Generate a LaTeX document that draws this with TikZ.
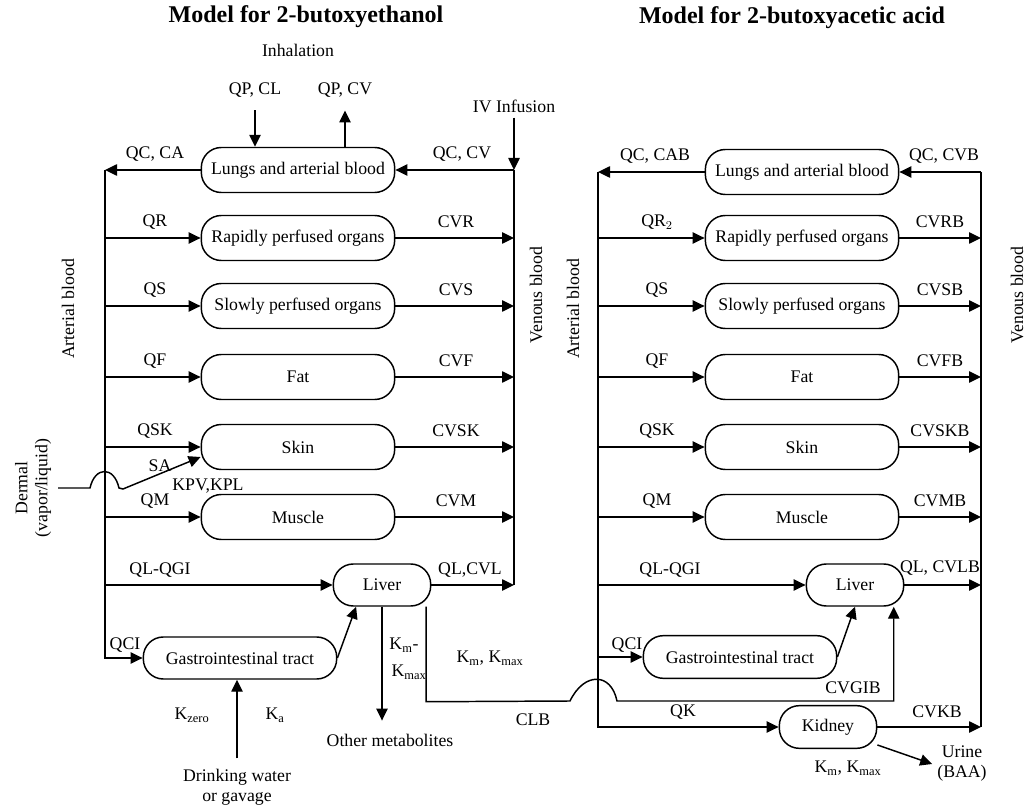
\documentclass[tikz,border=0pt]{standalone}
\usepackage{fontspec}
\setmainfont{Liberation Serif}
\usetikzlibrary{arrows.meta}

\begin{document}
\begin{tikzpicture}[x=0.75pt, y=-0.75pt, line width=1.1pt,
every node/.style={font=\fontsize{13.3}{15}\selectfont},
title/.style={font=\bfseries\fontsize{18}{21}\selectfont},
organ/.style={draw, line width=1.1pt, rounded corners=15pt, minimum width=145pt, minimum height=33.75pt, inner sep=0pt},
lobe/.style={organ, minimum width=73pt, minimum height=31.5pt},
vlabel/.style={rotate=90},
>={Triangle[length=9pt,width=8.5pt]}]
\useasboundingbox (0,0) rectangle (1026,806);
\def\artL{105}
\def\venL{514}
\def\artR{598}
\def\venR{981}

%titles
\node[title] (titleL) at (306,17) {Model for 2-butoxyethanol};
\node[title] (titleR) at (792,18) {Model for 2-butoxyacetic acid};

%model for 2-butoxyethanol
\node (inhal) at (298,50) {Inhalation};
\node[organ] (lungL) at (298,170) {Lungs and arterial blood};
\coordinate (artLtop) at (\artL,170);
\coordinate (venLtop) at (\venL,170);
\coordinate (venLbot) at (\venL,585);
\node (qpcl) at (255,90) {QP, CL};
\node (qpcv) at (345,90) {QP, CV};
\node (iv) at (\venL,106) {IV Infusion};
\draw[->, shorten <=6pt] (qpcl.south) -- (qpcl.south |- lungL.north);
\draw[->, shorten >=6pt] (qpcv.south |- lungL.north) -- (qpcv.south);
\draw[->] (iv.south) -- (venLtop);
\draw[->] (lungL.west) -- (artLtop);
\draw[->] (venLtop) -- (lungL.east);
\draw (venLtop) -- (venLbot);
\node (qcca) at (155,154) {QC, CA};
\node (qccv) at (462,154) {QC, CV};

\foreach \nm/\txt/\y/\qin/\qout in {rapL/Rapidly perfused organs/238/QR/CVR,
  slowL/Slowly perfused organs/306/QS/CVS, fatL/Fat/377/QF/CVF,
  skinL/Skin/447/QSK/CVSK, musL/Muscle/517/QM/CVM}{
  \node[organ] (\nm) at (298,\y) {\txt};
  \draw[->] (\artL,\y) -- (\nm.west);
  \draw[->] (\nm.east) -- (\venL,\y);
  \node (\nm in) at (155,\y-16) {\qin};
  \node (\nm out) at (456,\y-16) {\qout};
}

%liver and gut
\node[lobe] (liverL) at (382,585) {Liver};
\node[organ, minimum height=31.5pt] (giL) at (240,658) {Gastrointestinal tract};
\draw[->] (\artL,585) -- (liverL.west);
\draw[->] (liverL.east) -- (venLbot);
\draw[->] (artLtop) |- (giL.west);
\draw[->] (giL.east) -- (liverL.220);
\node (qlqgiL) at (160,570) {QL-QGI};
\node (qlcvl) at (470,570) {QL,CVL};
\node (qciL) at (125,645) {QCI};
\node[align=center] (drink) at (237,787) {Drinking water\\or gavage};
\draw[->, shorten <=4pt] (drink.north) -- (drink.north |- giL.south);
\node (kzero) at (192,715) {K\textsubscript{zero}};
\node (ka) at (275,715) {K\textsubscript{a}};
\node (othermet) at (390,740) {Other metabolites};
\draw[->, shorten >=6pt] (liverL.south) -- (liverL.south |- othermet.north);
\node (kmL) at (404,645) {K\textsubscript{m}-};
\node (kmaxL) at (409,672) {K\textsubscript{max}};
\node (kmkmax) at (490,658) {K\textsubscript{m}, K\textsubscript{max}};
\node (clb) at (533,720) {CLB};

%dermal route
\node[vlabel, align=center] (dermal) at (33,488) {Dermal\\(vapor/liquid)};
\coordinate (dermS) at (58,488);
\draw[->] (dermS) -- (90,488) .. controls (95,466) and (114,466) .. (119,488)
  -- (123,489) -- ([yshift=-7.5pt]skinL.west);
\node (sa) at (160,466) {SA};
\node (kpv) at (208,486) {KPV,KPL};

\node[vlabel] (artlabL) at (68,309) {Arterial blood};
\node[vlabel] (venlabL) at (536,295) {Venous blood};

%model for 2-butoxyacetic acid
\node[organ] (lungR) at (802,172) {Lungs and arterial blood};
\coordinate (artRtop) at (\artR,172);
\coordinate (venRtop) at (\venR,172);
\coordinate (venRbot) at (\venR,727);
\draw[->] (lungR.west) -- (artRtop);
\draw[->] (venRtop) -- (lungR.east);
\draw (venRtop) -- (venRbot);
\node (qccab) at (655,156) {QC, CAB};
\node (qccvb) at (944,156) {QC, CVB};

\foreach \nm/\txt/\y/\qin/\qout in {rapR/Rapidly perfused organs/238/QR$_2$/CVRB,
  slowR/Slowly perfused organs/306/QS/CVSB, fatR/Fat/377/QF/CVFB,
  skinR/Skin/447/QSK/CVSKB, musR/Muscle/517/QM/CVMB}{
  \node[organ] (\nm) at (802,\y) {\txt};
  \draw[->] (\artR,\y) -- (\nm.west);
  \draw[->] (\nm.east) -- (\venR,\y);
  \node (\nm in) at (657,\y-16) {\qin};
  \node (\nm out) at (940,\y-16) {\qout};
}

\node[lobe] (liverR) at (855,585) {Liver};
\node[organ, minimum height=32pt] (giR) at (740,657) {Gastrointestinal tract};
\node[lobe, minimum height=32pt] (kidney) at (828,727) {Kidney};
\draw[->] (\artR,585) -- (liverR.west);
\draw[->] (liverR.east) -- (\venR,585);
\draw[->] (\artR,657) -- (giR.west);
\draw[->] (giR.east) -- (liverR.south);
\draw[->] (artRtop) |- (kidney.west);
\draw[->] (kidney.east) -- (venRbot);
\node (qlqgiR) at (670,570) {QL-QGI};
\node (qlcvlb) at (940,568) {QL, CVLB};
\node (qciR) at (627,645) {QCI};
\node (cvgib) at (853,688) {CVGIB};
\node (qk) at (683,712) {QK};
\node (cvkb) at (937,712) {CVKB};
\node[align=center] (urine) at (962,764) {Urine\\(BAA)};
\draw[->] (kidney.-20) -- (urine.west);
\node (kmR) at (848,768) {K\textsubscript{m}, K\textsubscript{max}};

\node[vlabel] (artlabR) at (573,309) {Arterial blood};
\node[vlabel] (venlabR) at (1017,295) {Venous blood};

%clearance of the acid from the liver
\draw[->] ([xshift=-4pt]liverL.south east) -- ++(0,95) -- (570,701)
  .. controls (584,672) and (611,672) .. (617,701)
  -| ([xshift=-8pt]liverR.south east);
\end{tikzpicture}
\end{document}
